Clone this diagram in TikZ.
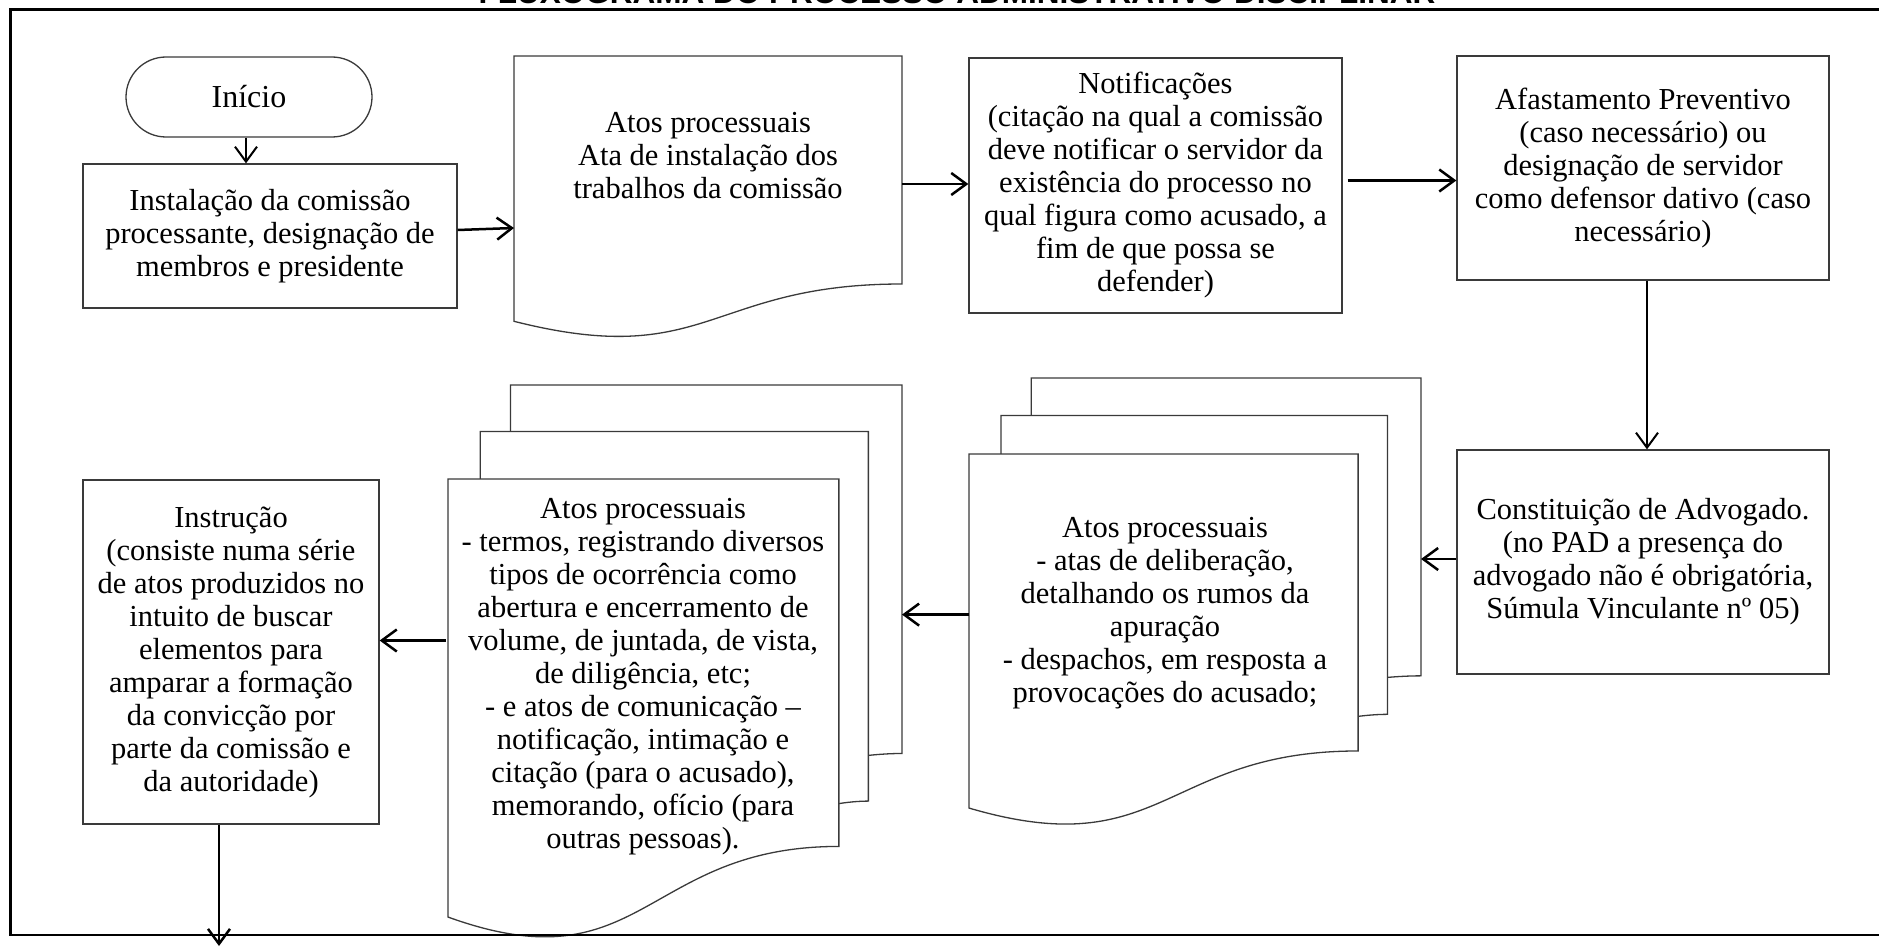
\documentclass[tikz,border=0pt]{standalone}
\usepackage{fontspec}
\setmainfont{Liberation Serif}
\newfontfamily\titlefont{Liberation Sans}
\usetikzlibrary{arrows.meta}
\definecolor{boxgray}{HTML}{3A3A3A}
\newcommand\multidocshape[4]{%
 \begin{scope}[shift={(#1pt,-#2pt)}, x=#3pt, y=-#4pt]
  \draw[docline] (0.1376,0.0840) -- (0.1376,0) -- (1,0) -- (1,0.6663) .. controls (0.9630,0.6663) and (0.9259,0.6698) .. (0.9259,0.6698);
  \draw[docline] (0.0709,0.1701) -- (0.0709,0.0840) -- (0.9259,0.0840) -- (0.9259,0.7524) .. controls (0.8934,0.7524) and (0.8609,0.7570) .. (0.8609,0.7570);
  \draw[docline, fill=white] (0,0.9621) .. controls (0.4305,1.0899) and (0.4305,0.8344) .. (0.8609,0.8344) -- (0.8609,0.1701) -- (0,0.1701) -- cycle;
 \end{scope}}
\begin{document}
\begin{tikzpicture}[x=1pt,y=1pt,
  txt/.style={font=\fontsize{30.5}{33}\selectfont, align=center, inner sep=0pt},
  box/.style={txt, draw=boxgray, line width=1.3pt, fill=white},
  docline/.style={draw=boxgray, line width=1.3pt},
  arr/.style={line width=2.5pt, -{Straight Barb[length=15pt,width=22pt]}},
  frameline/.style={line width=2.8pt},
]
\useasboundingbox (0,0) rectangle (1879,-947);

% title (cut by the top edge)
\node[font=\titlefont\bfseries\fontsize{31.5}{36}\selectfont, anchor=base, inner sep=0pt] (title) at (957,-3.3) {FLUXOGRAMA DO PROCESSO ADMINISTRATIVO DISCIPLINAR};

% start
\node[box, font=\fontsize{32}{36}\selectfont, minimum width=246pt, minimum height=80pt, rounded corners=40pt] (ini) at (249,-97) {Início};

% first row
\node[box, minimum width=374pt, minimum height=144pt] (inst) at (270,-236)
 {Instalação da comissão\\processante, designação de\\membros e presidente};

\draw[docline, fill=white] (514,-56) -- (902,-56) -- (902,-284) .. controls (708,-284) and (708,-370.4) .. (514,-321.3) -- cycle;
\node[txt] (d1) at (708,-156) {Atos processuais\\Ata de instalação dos\\trabalhos da comissão};
\coordinate (d1w) at (514,-228);
\coordinate (d1e) at (902,-184);

\node[box, minimum width=373pt, minimum height=255pt] (notif) at (1155.5,-185.5)
 {Notificações\\(citação na qual a comissão\\deve notificar o servidor da\\existência do processo no\\qual figura como acusado, a\\fim de que possa se\\defender)};

\node[box, minimum width=372pt, minimum height=224pt] (afast) at (1643,-168)
 {Afastamento Preventivo\\(caso necessário) ou\\designação de servidor\\como defensor dativo (caso\\necessário)};

% second row
\node[box, minimum width=372pt, minimum height=224pt] (const) at (1643,-562)
 {Constituição de Advogado.\\(no PAD a presença do\\advogado não é obrigatória,\\Súmula Vinculante nº 05)};

\multidocshape{969}{378}{452}{447}
\node[txt] (d2) at (1165,-613.5) {Atos processuais\\- atas de deliberação,\\detalhando os rumos da\\apuração\\- despachos, em resposta a\\provocações do acusado;};
\coordinate (d2rear) at (1421,-559);
\coordinate (d2fw) at (969,-614.6);

\multidocshape{448}{385}{454}{553}
\node[txt] (d3) at (643,-676.5) {Atos processuais\\- termos, registrando diversos\\tipos de ocorrência como\\abertura e encerramento de\\volume, de juntada, de vista,\\de diligência, etc;\\- e atos de comunicação –\\notificação, intimação e\\citação (para o acusado),\\memorando, ofício (para\\outras pessoas).};
\coordinate (d3rear) at (902,-614.6);
\coordinate (d3fw) at (446,-640.5);

\node[box, minimum width=296pt, minimum height=344pt] (instr) at (231,-652)
 {Instrução\\(consiste numa série\\de atos produzidos no\\intuito de buscar\\elementos para\\amparar a formação\\da convicção por\\parte da comissão e\\da autoridade)};
\coordinate (endpt) at (219,-946);

% frame (right side beyond the page edge)
\draw[frameline] (1890,-9.5) -- (10.5,-9.5) -- (10.5,-935) -- (1890,-935);

% connectors
\draw[arr, line width=2pt] ([xshift=-3pt]ini.south) -- ([xshift=-3pt]ini.south |- inst.north);
\draw[arr] ([yshift=6pt]inst.east) -- (d1w);
\draw[arr] (d1e) -- (d1e -| notif.west);
\draw[arr] ([xshift=5pt,yshift=5pt]notif.east) -- ([yshift=5pt]notif.east -| afast.west);
\draw[arr, line width=2pt] ([xshift=4pt]afast.south) -- ([xshift=4pt]afast.south |- const.north);
\draw[arr] (const.west |- d2rear) -- (d2rear);
\draw[arr] (d2fw) -- (d3rear);
\draw[arr] (d3fw) -- (d3fw -| instr.east);
\draw[arr] (instr.south -| endpt) -- (endpt);
\end{tikzpicture}
\end{document}
